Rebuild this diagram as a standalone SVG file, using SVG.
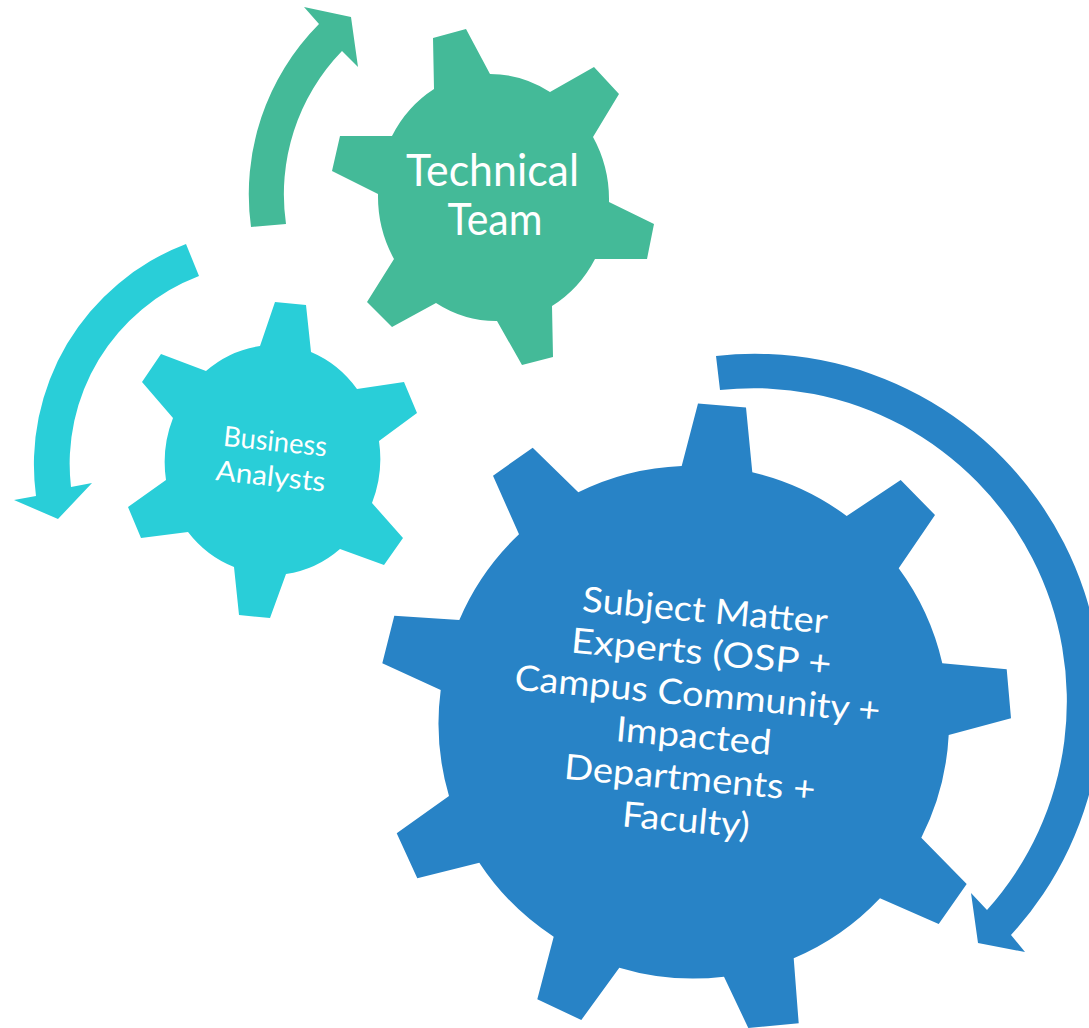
<svg xmlns="http://www.w3.org/2000/svg" width="1089" height="1028" viewBox="0 0 1089 1028">
  <style>
    .green { fill: #44BA98; }
    .cyan { fill: #29CED8; }
    .blue { fill: #2883C6; }
    .label { fill: #FFFFFF; font-family: "Lato", "Open Sans", sans-serif; text-anchor: middle; }
  </style>
  <rect width="1089" height="1028" fill="#FFFFFF"/>

  <!-- circular arrows around the gears -->
  <g id="connectors">
    <path id="arrow-technical" class="green" d="M 251,227 A 241.5 241.5 0 0 1 319,24 L 304,7 L 351,17 L 358,67 L 342,51 A 206 206 0 0 0 286,224 Z"/>
    <path id="arrow-business" class="cyan" d="M 186,244 A 236 236 0 0 0 36,496 L 14,500 L 58,519 L 92,483 L 71,487 A 201 201 0 0 1 199,276 Z"/>
    <path id="arrow-sme" class="blue" d="M 716,356 A 347 347 0 0 1 1011,935 L 1025,952 L 978,943 L 971,893 L 987,910 A 313 313 0 0 0 720,390 Z"/>
  </g>

  <!-- Technical Team gear -->
  <g id="technical-team">
    <path class="green" d="M 434,89 L 433,38 L 466,29 L 490,74 A 116 123.5 0 0 1 550,92 L 594,67 L 619,94 L 593,137 A 116 123.5 0 0 1 609,202 L 654,224 L 647,259 L 595,259 A 116 123.5 0 0 1 552,306 L 553,357 L 522,365 L 497,321 A 116 123.5 0 0 1 436,303 L 392,327 L 367,302 L 394,259 A 116 123.5 0 0 1 378,194 L 332,171 L 340,136 L 392,136 A 116 123.5 0 0 1 434,89 Z"/>
    <text class="label" font-size="45" x="492.5" y="186" textLength="173" lengthAdjust="spacingAndGlyphs">Technical</text>
    <text class="label" font-size="45" x="495" y="235" textLength="95" lengthAdjust="spacingAndGlyphs">Team</text>
  </g>

  <!-- Business Analysts gear -->
  <g id="business-analysts">
    <path class="cyan" d="M 260,346 L 275,302 L 306,305 L 311,352 A 108 115 0 0 1 357,389 L 404,382 L 417,413 L 379,441 A 108 115 0 0 1 372,503 L 403,538 L 384,565 L 340,549 A 108 115 0 0 1 286,574 L 270,618 L 239,615 L 234,567 A 108 115 0 0 1 188,532 L 141,538 L 128,507 L 166,480 A 108 115 0 0 1 173,418 L 142,382 L 161,354 L 206,371 A 108 115 0 0 1 260,346 Z"/>
    <g transform="rotate(6 272 468)">
      <text class="label" font-size="28" x="272.5" y="451" textLength="104" lengthAdjust="spacingAndGlyphs">Business</text>
      <text class="label" font-size="28" x="271.5" y="486" textLength="110" lengthAdjust="spacingAndGlyphs">Analysts</text>
    </g>
  </g>

  <!-- Subject Matter Experts gear -->
  <g id="subject-matter-experts">
    <path class="blue" d="M 681.7,466 L 698,403.5 L 746,407.5 L 752.3,472.3 A 256 256 0 0 1 846.7,516 L 900.7,480 L 935,515 L 898.7,568.3 A 256 256 0 0 1 942.3,663.3 L 1006.7,669.3 L 1011,718.3 L 948.7,735 A 256 256 0 0 1 921.3,837.7 L 966.7,884 L 938.7,924 L 880,898.3 A 256 256 0 0 1 793.7,958.3 L 798.7,1023.3 L 748.3,1028 L 724,976.7 A 256 256 0 0 1 619.3,967.7 L 581.3,1020 L 537.3,999.3 L 553.7,936.7 A 256 256 0 0 1 479.3,862.7 L 417.3,878.3 L 396.7,833.3 L 449,796 A 256 256 0 0 1 440.7,690 L 382.3,663.3 L 394.3,615.7 L 459.3,620 A 256 256 0 0 1 519,534.3 L 493,475.7 L 532.7,447.7 L 578.3,492.3 A 256 256 0 0 1 681.7,466 Z"/>
    <g transform="rotate(5.2 694 727)">
      <text class="label" font-size="35" x="694.5" y="622" textLength="246" lengthAdjust="spacingAndGlyphs">Subject Matter</text>
      <text class="label" font-size="35" x="694.5" y="664" textLength="261" lengthAdjust="spacingAndGlyphs">Experts (OSP +</text>
      <text class="label" font-size="35" x="694.5" y="706" textLength="367" lengthAdjust="spacingAndGlyphs">Campus Community +</text>
      <text class="label" font-size="35" x="694.5" y="748" textLength="156" lengthAdjust="spacingAndGlyphs">Impacted</text>
      <text class="label" font-size="35" x="694.5" y="790.5" textLength="252" lengthAdjust="spacingAndGlyphs">Departments +</text>
      <text class="label" font-size="35" x="694.5" y="832.5" textLength="128" lengthAdjust="spacingAndGlyphs">Faculty)</text>
    </g>
  </g>
</svg>
